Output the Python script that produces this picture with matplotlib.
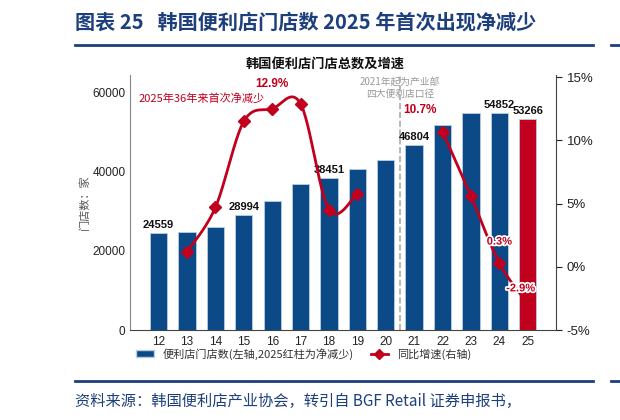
import numpy as np
import matplotlib
matplotlib.use("Agg")
import matplotlib.pyplot as plt
import matplotlib.patheffects as pe
from matplotlib.lines import Line2D
from matplotlib.patches import Patch

plt.rcParams['font.family'] = ['Liberation Sans', 'Noto Sans CJK SC', 'DejaVu Sans']

years = [12, 13, 14, 15, 16, 17, 18, 19, 20, 21, 22, 23, 24, 25]
stores = [24559, 24800, 25900, 28994, 32600, 36800, 38451, 40650, 42850, 46804, 51850, 54700, 54852, 53266]
growth = [np.nan, 1.2, 4.7, 11.5, 12.5, 12.9, 4.5, 5.8, np.nan, np.nan, 10.7, 5.6, 0.3, -2.9]
bar_labels = {12: "24559", 15: "28994", 18: "38451", 21: "46804", 24: "54852", 25: "53266"}

BLUE = "#0b4a87"
RED = "#c0001c"
CJK = ['Noto Sans CJK SC', 'DejaVu Sans']


def smooth(xs, ys, n=30):
    # Excel-like smoothed line (cubic bezier, catmull-rom control points)
    xs, ys = np.asarray(xs, float), np.asarray(ys, float)
    px, py = [], []
    for i in range(len(xs) - 1):
        p0 = (xs[max(i - 1, 0)], ys[max(i - 1, 0)])
        p1 = (xs[i], ys[i])
        p2 = (xs[i + 1], ys[i + 1])
        p3 = (xs[min(i + 2, len(xs) - 1)], ys[min(i + 2, len(xs) - 1)])
        c1 = (p1[0] + (p2[0] - p0[0]) / 6, p1[1] + (p2[1] - p0[1]) / 6)
        c2 = (p2[0] - (p3[0] - p1[0]) / 6, p2[1] - (p3[1] - p1[1]) / 6)
        t = np.linspace(0, 1, n)
        bx = (1 - t) ** 3 * p1[0] + 3 * (1 - t) ** 2 * t * c1[0] + 3 * (1 - t) * t ** 2 * c2[0] + t ** 3 * p2[0]
        by = (1 - t) ** 3 * p1[1] + 3 * (1 - t) ** 2 * t * c1[1] + 3 * (1 - t) * t ** 2 * c2[1] + t ** 3 * p2[1]
        px.extend(bx)
        py.extend(by)
    return px, py


fig = plt.figure(figsize=(6.2, 4.2), dpi=100)

# header
fig.text(0.121, 0.948, "图表 25   韩国便利店门店数 2025 年首次出现净减少", family=CJK,
         fontsize=14.5, fontweight='bold', color="#1d3f7c", va='center')
fig.add_artist(Line2D([0.121, 0.957], [0.893, 0.893], color="#1d3f7c", lw=2))
fig.add_artist(Line2D([0.985, 1.0], [0.893, 0.893], color="#1d3f7c", lw=2))
fig.text(0.525, 0.845, "韩国便利店门店总数及增速", family=CJK, fontsize=9.5,
         fontweight='bold', color="#111111", ha='center', va='center')

ax = fig.add_axes([0.21, 0.214, 0.687, 0.607])
colors = [BLUE] * (len(years) - 1) + [RED]
ax.bar(years, stores, width=0.61, color=colors, edgecolor="#b8cde3", linewidth=0.6, zorder=2)
ax.set_xlim(11.0, 26.0)
ax.set_ylim(0, 64300)
ax.set_yticks([0, 20000, 40000, 60000])
ax.set_xticks(years)
ax.tick_params(axis='both', labelsize=8.5, colors="#222222", length=0)
ax.tick_params(axis='x', pad=4)
for s in ['top', 'right']:
    ax.spines[s].set_visible(False)
ax.spines['left'].set_color("#888888")
ax.spines['bottom'].set_color("#444444")
ax.set_ylabel("门店数：家", family=CJK, fontsize=8, color="#555555", labelpad=2)

for x, s in zip(years, stores):
    if x in bar_labels:
        ax.text(x, s + 700, bar_labels[x], ha='center', va='bottom', fontsize=8,
                fontweight='bold', color="#111111", zorder=5)

ax.axvline(20.5, color="#aaaaaa", ls='--', lw=1.2, zorder=1)
ax.text(20.5, 64000, "2021年起为产业部\n四大便利店口径", family=CJK, fontsize=7,
        color="#999999", ha='center', va='top', linespacing=1.3)

ax2 = ax.twinx()
ax2.set_ylim(-5, 15.16)
ax2.set_yticks([-5, 0, 5, 10, 15])
ax2.set_yticklabels(["-5%", "0%", "5%", "10%", "15%"])
ax2.tick_params(axis='y', labelsize=9.5, colors="#222222", direction='out', length=4, width=0.8)
for s in ['top', 'left', 'bottom']:
    ax2.spines[s].set_visible(False)
ax2.spines['right'].set_color("#444444")

g = np.array(growth)
yrs = np.array(years)
for seg in [(13, 19), (22, 25)]:
    m = (yrs >= seg[0]) & (yrs <= seg[1])
    sx, sy = smooth(yrs[m], g[m])
    ax2.plot(sx, sy, color=RED, lw=2, zorder=4)
    ax2.plot(yrs[m], g[m], ls='none', marker='D', ms=6, color=RED, zorder=5)

ax2.text(16, 14.0, "12.9%", color=RED, fontsize=8.5, fontweight='bold', ha='center', va='bottom')
ax2.text(20.6, 11.9, "10.7%", color=RED, fontsize=8.5, fontweight='bold', ha='left', va='bottom')
stroke = [pe.withStroke(linewidth=2.5, foreground='white')]
ax2.text(24.0, 2.0, "0.3%", color=RED, fontsize=8, fontweight='bold', ha='center', va='center',
         path_effects=stroke, zorder=6)
ax2.text(24.75, -1.7, "-2.9%", color=RED, fontsize=8, fontweight='bold', ha='center', va='center',
         path_effects=stroke, zorder=6)
ax2.text(11.3, 13.3, "2025年36年来首次净减少", family=CJK, color=RED, fontsize=8, ha='left', va='center')

handles = [Patch(facecolor=BLUE, edgecolor="#b8cde3"),
           Line2D([0], [0], color=RED, lw=2, marker='D', ms=5)]
fig.legend(handles, ["便利店门店数(左轴,2025红柱为净减少)", "同比增速(右轴)"],
           loc='center', bbox_to_anchor=(0.49, 0.158), ncol=2, frameon=False,
           prop={'family': CJK, 'size': 8}, labelcolor="#333333",
           handlelength=1.6, columnspacing=1.5, handletextpad=0.8)

# footer
fig.add_artist(Line2D([0.121, 0.957], [0.093, 0.093], color="#1d3f7c", lw=2))
fig.add_artist(Line2D([0.985, 1.0], [0.093, 0.093], color="#1d3f7c", lw=2))
fig.text(0.121, 0.045, "资料来源：韩国便利店产业协会，转引自 BGF Retail 证券申报书，", family=CJK,
         fontsize=11, style='italic', color="#1d3f7c", va='center')

fig.savefig("out.png", dpi=100)
